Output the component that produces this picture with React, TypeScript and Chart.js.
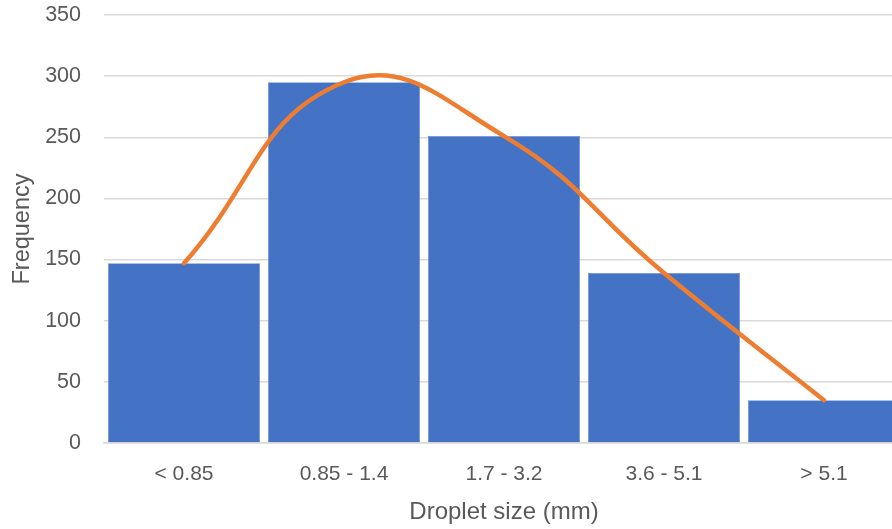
import React, { useEffect, useRef } from "react";
import { Chart, registerables } from "chart.js";

Chart.register(...registerables);

const categories = ["< 0.85", "0.85 - 1.4", "1.7 - 3.2", "3.6 - 5.1", "> 5.1"];
const frequencies = [147, 295, 251, 139, 35];
const curveValues = [147, 295, 251, 139, 35];
const yTicks = [0, 50, 100, 150, 200, 250, 300, 350];

const FONT = "'Liberation Sans', Arial, sans-serif";
const TEXT = "#595959";
const GRID = "#D9D9D9";

export default function App() {
  const ref = useRef<HTMLCanvasElement | null>(null);
  useEffect(() => {
    if (!ref.current) return;
    const chart = new Chart(ref.current, {
      type: "bar",
      data: {
        labels: categories,
        datasets: [
          {
            type: "line",
            data: curveValues,
            borderColor: "#ED7D31",
            borderWidth: 4.5,
            pointRadius: 0,
            tension: 0.45,
            borderCapStyle: "round",
            order: 0,
            clip: false as any,
          } as any,
          {
            type: "bar",
            data: frequencies,
            backgroundColor: "#4472C4",
            borderColor: "#6C8FD3",
            borderWidth: 0.8,
            categoryPercentage: 1,
            barPercentage: 0.95,
            order: 1,
          },
        ],
      },
      options: {
        responsive: false,
        animation: false,
        layout: { padding: { top: 15, right: 0, left: 0, bottom: 0 } },
        plugins: { legend: { display: false }, tooltip: { enabled: false } },
        scales: {
          x: {
            grid: { display: false, drawTicks: false },
            border: { display: true, color: GRID, width: 1.5 },
            ticks: { color: TEXT, font: { family: FONT, size: 21 }, padding: 19, maxRotation: 0 },
            title: {
              display: true,
              text: "Droplet size (mm)",
              color: TEXT,
              font: { family: FONT, size: 24 },
              padding: { top: 0, bottom: 2 },
            },
            afterFit: (s: any) => {
              s.height = 86;
              s.paddingLeft = 0;
              s.paddingRight = 0;
            },
          },
          y: {
            min: 0,
            max: 350,
            afterBuildTicks: (s: any) => {
              s.ticks = yTicks.map((v) => ({ value: v }));
            },
            grid: { color: GRID, lineWidth: 1.5, drawTicks: false },
            border: { display: false },
            ticks: { color: TEXT, font: { family: FONT, size: 21.5 }, padding: 23 },
            title: {
              display: true,
              text: "Frequency",
              color: TEXT,
              font: { family: FONT, size: 23.5 },
              padding: { top: 8, bottom: 0 },
            },
            afterFit: (s: any) => {
              s.width = 104;
              s.paddingTop = 0;
              s.paddingBottom = 0;
            },
          },
        },
      },
    });
    return () => chart.destroy();
  }, []);
  return (
    <div style={{ position: "fixed", left: 0, top: 0, width: 892, height: 529, overflow: "hidden", background: "#fff" }}>
      <canvas ref={ref} width={904} height={529} style={{ display: "block" }} />
    </div>
  );
}
